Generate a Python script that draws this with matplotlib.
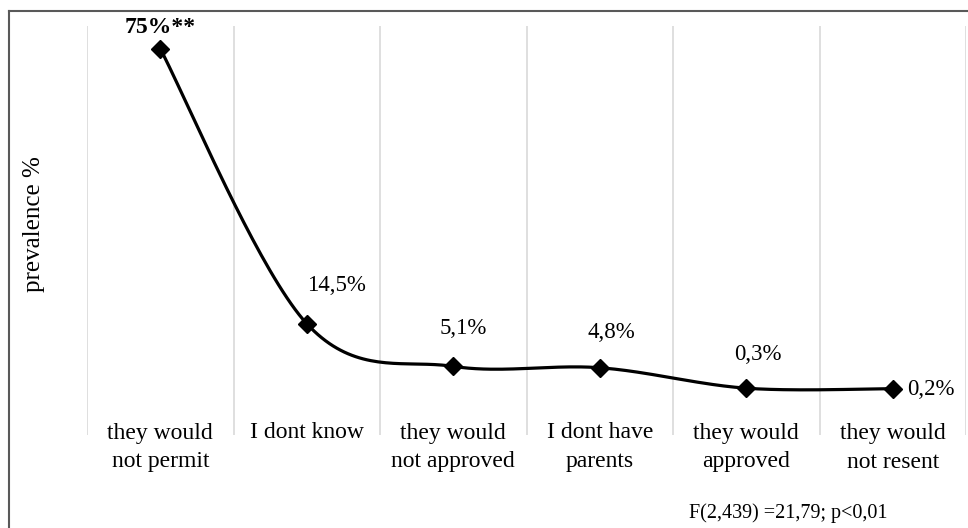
"""
Prevalence by parents' attitude - smoothed line chart.
"""

import matplotlib

matplotlib.use("Agg")
import matplotlib.pyplot as plt  # type: ignore
import numpy as np  # type: ignore
from matplotlib.lines import Line2D  # type: ignore

categories = [
    "they would\nnot permit",
    "I dont know",
    "they would\nnot approved",
    "I dont have\nparents",
    "they would\napproved",
    "they would\nnot resent",
]
values = [75.0, 14.5, 5.1, 4.8, 0.3, 0.2]
value_labels = ["75%**", "14,5%", "5,1%", "4,8%", "0,3%", "0,2%"]
stat_note = "F(2,439) =21,79; p<0,01"

plt.rcParams["font.family"] = ["Liberation Serif", "DejaVu Serif"]

W, H = 968, 528


def smooth_display(ax, xs, ys, steps=40):
    """Catmull-Rom style smoothing in screen space, like Excel's smoothed line."""
    pts = ax.transData.transform(np.column_stack([xs, ys]))
    pts = np.vstack([pts[0], pts, pts[-1]])
    out = []
    for i in range(1, len(pts) - 2):
        p0, p1, p2, p3 = pts[i - 1], pts[i], pts[i + 1], pts[i + 2]
        c1 = p1 + (p2 - p0) / 6.0
        c2 = p2 - (p3 - p1) / 6.0
        t = np.linspace(0, 1, steps)[:, None]
        seg = (
            (1 - t) ** 3 * p1
            + 3 * (1 - t) ** 2 * t * c1
            + 3 * (1 - t) * t**2 * c2
            + t**3 * p2
        )
        out.append(seg)
    curve = np.vstack(out)
    return ax.transData.inverted().transform(curve)


def create_chart():
    fig = plt.figure(figsize=(W / 100, H / 100), dpi=100)
    ax = fig.add_axes([87 / W, 1 - 435 / H, (966 - 87) / W, (435 - 26) / H])

    x = np.arange(len(categories))
    ax.set_xlim(-0.5, len(categories) - 0.5)
    ax.set_ylim(-10, 80)

    for b in np.arange(len(categories) + 1) - 0.5:
        ax.axvline(b, color="#d9d9d9", lw=1.2, zorder=0)

    fig.canvas.draw()
    curve = smooth_display(ax, x, values)
    ax.plot(curve[:, 0], curve[:, 1], color="black", lw=2.3, zorder=2)
    ax.plot(x, values, ls="none", marker="D", ms=9.5, color="black", zorder=3)

    # data labels
    ax.annotate(value_labels[0], (x[0], values[0]), xytext=(0, 21),
                textcoords="offset pixels", ha="center", va="center",
                fontsize=17, fontweight="bold")
    offsets = [(30, 38), (10, 38), (12, 35), (12, 34), (0, 0)]
    for i, (dx, dy) in enumerate(offsets, start=1):
        if i == len(values) - 1:
            ax.annotate(value_labels[i], (x[i], values[i]), xytext=(14, -1),
                        textcoords="offset pixels", ha="left", va="center",
                        fontsize=16.5)
        else:
            ax.annotate(value_labels[i], (x[i], values[i]), xytext=(dx, dy),
                        textcoords="offset pixels", ha="center", va="center",
                        fontsize=16.5)

    ax.set_xticks(x)
    ax.set_xticklabels(categories, fontsize=17, linespacing=1.5)
    ax.tick_params(axis="x", length=0, pad=-9)
    ax.set_yticks([])
    for s in ax.spines.values():
        s.set_visible(False)

    fig.text(34 / W, 1 - 224 / H, "prevalence %", rotation=90,
             ha="center", va="center", fontsize=18)
    fig.text(788 / W, 1 - 513 / H, stat_note, ha="center", va="center",
             fontsize=14.5)

    # outer frame (left and top edges)
    fig.add_artist(Line2D([9 / W, 9 / W], [0, 1 - 11 / H], transform=fig.transFigure,
                          color="#595959", lw=1.5))
    fig.add_artist(Line2D([9 / W, 1], [1 - 11 / H, 1 - 11 / H], transform=fig.transFigure,
                          color="#595959", lw=1.5))

    fig.savefig("out.png", dpi=100)


if __name__ == "__main__":
    create_chart()
